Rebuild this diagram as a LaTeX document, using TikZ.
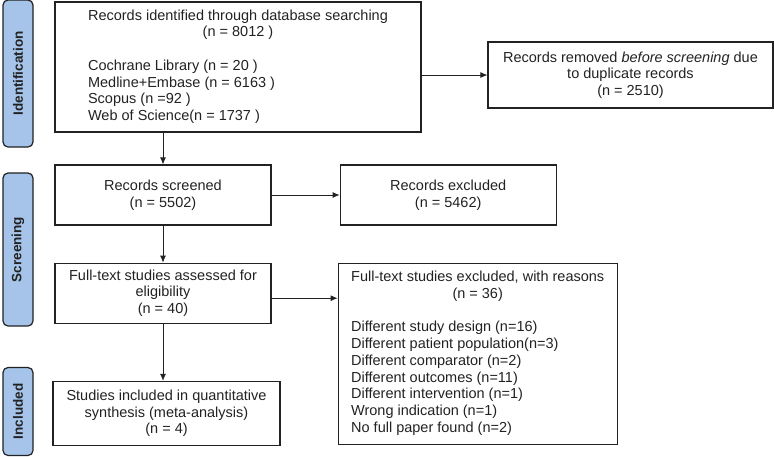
\documentclass[tikz,border=0pt]{standalone}
\usepackage{fontspec}
\setmainfont{Liberation Sans}
\usetikzlibrary{arrows.meta,positioning}
\tikzset{
  box/.style={rectangle, draw=ink, line width=1.2pt, inner sep=0pt, align=center, text=ink,
              font=\fontsize{14.5}{16.7}\selectfont},
  phase/.style={rectangle, rounded corners=5pt, draw=ink, line width=1.2pt, fill=phaseblue,
                rotate=90, minimum height=30pt, inner sep=0pt, text=ink,
                font=\fontsize{13.5}{16}\selectfont\bfseries},
  ar/.style={-{Latex[length=7pt,width=6pt]}, line width=0.8pt, draw=ink},
}
\definecolor{phaseblue}{RGB}{166,196,233}
\definecolor{ink}{RGB}{34,34,34}

\begin{document}
\begin{tikzpicture}[x=1pt,y=-1pt]
\useasboundingbox (0,0) rectangle (774,456);
% phase labels
\node[phase, minimum width=147pt] (idph) at (18,73.5) {Identification};
\node[phase, minimum width=153pt] (scph) at (18,249.5) {Screening};
\node[phase, minimum width=88pt] (inph) at (18,411.5) {Included};
% flow boxes
\node[box, minimum width=366pt, minimum height=130pt] (ident) at (238,67) {%
  \begin{tabular}{@{}l@{}}
  Records identified through database searching\\
  \multicolumn{1}{c}{(n = 8012 )}\\
  \\
  Cochrane Library (n = 20 )\\
  Medline+Embase (n = 6163 )\\
  Scopus (n =92 )\\
  Web of Science(n = 1737 )
  \end{tabular}};
\node[box, minimum width=285pt, minimum height=66pt] (removed) at (630.5,75)
  {Records removed \textit{before screening} due\\to duplicate records\\(n = 2510)};
\node[box, minimum width=216pt, minimum height=60pt] (screened) at (163,195)
  {Records screened\\(n = 5502)};
\node[box, minimum width=216pt, minimum height=60pt, right=68pt of screened] (excluded)
  {Records excluded\\(n = 5462)};
\node[box, minimum width=216pt, minimum height=60pt, below=37pt of screened] (fulltext)
  {Full-text studies assessed for\\eligibility\\(n = 40)};
\node[box, minimum width=279pt, minimum height=181pt, right=66pt of fulltext.north east,
      anchor=north west] (ftexcl) {%
  \begin{tabular}{@{}l@{}}
  Full-text studies excluded, with reasons\\
  \multicolumn{1}{c}{(n = 36)}\\
  \\
  Different study design (n=16)\\
  Different patient population(n=3)\\
  Different comparator (n=2)\\
  Different outcomes (n=11)\\
  Different intervention (n=1)\\
  Wrong indication (n=1)\\
  No full paper found (n=2)
  \end{tabular}};
\node[box, minimum width=227pt, minimum height=64pt, below=57pt of fulltext, xshift=3.5pt] (included)
  {Studies included in quantitative\\synthesis (meta-analysis)\\(n = 4)};
% connectors
\draw[ar] (ident.south -| screened.north) -- (screened.north);
\draw[ar] (ident.east |- removed.west) -- (removed.west);
\draw[ar] (screened) -- (excluded);
\draw[ar] (screened) -- (fulltext);
\draw[ar] ([yshift=-5pt]fulltext.east) -- ([yshift=-5pt]fulltext.east -| ftexcl.west);
\draw[ar] (fulltext.south) -- (fulltext.south |- included.north);
\end{tikzpicture}
\end{document}
